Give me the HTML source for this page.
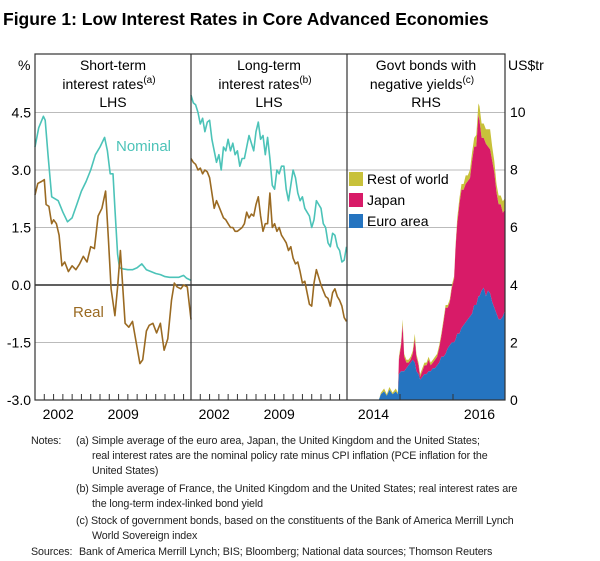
<!DOCTYPE html>
<html><head><meta charset="utf-8"><style>
body{margin:0;background:#fff;font-family:"Liberation Sans",Arial,sans-serif;}
#wrap{position:relative;width:600px;height:561px;overflow:hidden;}
.notes{position:absolute;left:0;top:0;font-size:10.7px;color:#222;line-height:15px;letter-spacing:-0.1px;}
.notes div{position:absolute;white-space:nowrap;}
</style></head><body>
<div id="wrap">
<svg id="chart" width="600" height="425" style="position:absolute;left:0;top:0">
<text x="3" y="25" font-size="17.5" font-weight="bold" fill="#000">Figure 1: Low Interest Rates in Core Advanced Economies</text>
<g id="grid"></g>
<g id="marks"></g>
<g id="frame"></g>
</svg>
<div class="notes" style="width:600px;height:561px">
<div style="left:31px;top:434px">Notes:</div>
<div style="left:76px;top:434px">(a) Simple average of the euro area, Japan, the United Kingdom and the United States;</div>
<div style="left:92px;top:449px">real interest rates are the nominal policy rate minus CPI inflation (PCE inflation for the</div>
<div style="left:92px;top:464px">United States)</div>
<div style="left:76px;top:482px">(b) Simple average of France, the United Kingdom and the United States; real interest rates are</div>
<div style="left:92px;top:497px">the long-term index-linked bond yield</div>
<div style="left:76px;top:514px">(c) Stock of government bonds, based on the constituents of the Bank of America Merrill Lynch</div>
<div style="left:92px;top:529px">World Sovereign index</div>
<div style="left:31px;top:545px">Sources:</div>
<div style="left:79px;top:545px">Bank of America Merrill Lynch; BIS; Bloomberg; National data sources; Thomson Reuters</div>
</div>
</div>
<script>
// ---- data ----
const shortNomDates=[2000.0,2000.4,2000.9,2001.1,2001.4,2001.8,2002.5,2003.0,2003.5,2004.0,2004.5,2005.0,2005.5,2006.0,2006.5,2007.0,2007.5,2007.8,2008.1,2008.4,2008.6,2008.9,2009.1,2009.5,2010.0,2010.5,2011.0,2011.5,2012.0,2012.5,2013.0,2013.5,2014.0,2014.5,2015.0,2015.5,2016.0,2016.3,2016.8];
const shortNom=[3.6,4.1,4.4,4.3,3.4,2.3,2.2,1.9,1.65,1.75,2.1,2.45,2.7,3.0,3.4,3.6,3.85,3.5,2.9,2.9,2.0,0.8,0.45,0.42,0.4,0.4,0.45,0.55,0.4,0.35,0.3,0.27,0.22,0.2,0.2,0.2,0.25,0.18,0.12];
const shortRealDates=[2000.0,2000.3,2000.7,2001.0,2001.2,2001.5,2001.8,2002.0,2002.3,2002.6,2002.9,2003.2,2003.6,2004.0,2004.4,2004.8,2005.2,2005.6,2006.0,2006.4,2006.8,2007.2,2007.6,2007.9,2008.2,2008.6,2008.9,2009.2,2009.7,2010.1,2010.5,2010.9,2011.3,2011.6,2012.0,2012.3,2012.7,2013.1,2013.5,2013.9,2014.3,2014.7,2015.0,2015.3,2015.7,2016.0,2016.4,2016.8];
const shortReal=[2.35,2.65,2.7,2.75,2.1,2.05,1.6,1.7,1.6,1.3,0.5,0.6,0.35,0.5,0.4,0.55,0.75,0.6,1.0,0.95,1.8,2.0,2.45,1.2,-0.1,-0.8,-0.05,0.9,-1.0,-1.1,-0.95,-1.5,-2.05,-1.95,-1.2,-1.05,-1.0,-1.25,-1.0,-1.7,-1.4,-0.4,0.05,-0.05,-0.1,0.0,-0.05,-0.9];
const longStart=2000, longStep=0.25;
const longNom=[4.95,4.75,4.7,4.5, 4.2,4.35,4.0,4.25, 4.3,3.8,3.5,3.2, 3.4,3.0,3.6,3.5, 3.8,3.5,3.7,3.4, 3.5,3.1,3.3,3.3, 3.6,3.9,3.7,3.5, 4.0,4.25,3.8,3.9, 3.4,3.85,3.3,2.6, 2.5,3.0,2.9,3.1, 3.1,2.5,2.2,2.6, 3.0,2.8,2.4,2.2, 2.3,2.0,1.9,1.8, 1.5,1.7,2.2,2.1, 2.0,1.6,1.5,1.1, 1.0,1.35,1.3,1.0, 0.9,0.6,0.65,1.0];
const longReal=[3.3,3.2,3.15,3.0, 3.05,2.9,3.0,2.95, 2.8,2.4,2.0,2.2, 2.05,1.9,1.75,1.7, 1.6,1.5,1.5,1.4, 1.4,1.45,1.5,1.6, 1.9,1.75,1.85,1.8, 2.1,2.3,1.8,1.4, 1.6,1.6,2.4,1.5, 1.6,1.4,1.5,1.3, 1.2,1.1,0.9,1.0, 0.7,0.55,0.6,0.35, 0.05,0.1,-0.2,-0.5, -0.55,0.05,0.4,0.2, 0.0,-0.15,-0.3,-0.35, -0.55,-0.2,-0.1,-0.3, -0.4,-0.55,-0.85,-0.95];
const bondDates=[2014.00,2014.60,2014.64,2014.70,2014.75,2014.80,2014.86,2014.92,2014.96,2014.98,2015.02,2015.05,2015.08,2015.12,2015.16,2015.20,2015.24,2015.28,2015.31,2015.35,2015.38,2015.42,2015.46,2015.50,2015.54,2015.58,2015.62,2015.66,2015.70,2015.74,2015.78,2015.82,2015.86,2015.90,2015.94,2015.98,2016.02,2016.05,2016.08,2016.12,2016.16,2016.20,2016.24,2016.28,2016.32,2016.36,2016.40,2016.44,2016.48,2016.50,2016.54,2016.58,2016.62,2016.66,2016.70,2016.74,2016.78,2016.82,2016.86,2016.90,2016.94,2016.98];
const euroArea=[0,0,0.2,0.3,0.15,0.35,0.2,0.3,0.2,0.9,1.0,1.0,1.0,1.1,1.2,1.3,1.4,1.3,1.0,0.9,0.7,0.8,0.9,0.9,1.0,1.0,1.1,1.1,1.2,1.3,1.5,1.5,1.6,1.8,1.9,2.0,2.0,2.1,2.3,2.3,2.5,2.6,2.7,2.8,2.9,3.0,3.3,3.3,3.6,3.6,3.8,3.9,3.6,3.8,3.7,3.4,3.2,3.0,2.8,2.8,2.9,3.1];
const japan=[0,0,0,0,0,0,0,0,0,0.5,0.9,1.6,0.5,0.2,0.1,0.1,0.2,0.8,0.5,0.3,0.1,0.2,0.3,0.3,0.4,0.2,0.2,0.3,0.3,0.5,0.7,1.2,1.6,1.4,1.5,1.9,2.2,3.2,3.8,4.5,4.8,4.7,4.8,4.8,4.8,5.3,5.5,5.5,6.3,6.1,5.3,5.2,5.3,5.0,5.0,4.9,4.7,4.2,4.0,4.0,3.6,3.5];
const restOfWorld=[0,0,0.05,0.1,0.05,0.1,0.05,0.1,0.05,0.1,0.1,0.2,0.1,0.1,0.1,0.1,0.1,0.2,0.1,0.1,0.1,0.1,0.1,0.1,0.1,0.1,0.1,0.1,0.1,0.1,0.1,0.1,0.1,0.1,0.1,0.1,0.1,0.1,0.2,0.2,0.2,0.2,0.3,0.2,0.3,0.3,0.3,0.4,0.4,0.5,0.5,0.5,0.5,0.6,0.7,0.5,0.4,0.3,0.3,0.3,0.4,0.4];
const lhsTicks=["4.5","3.0","1.5","0.0","-1.5","-3.0"];
const rhsTicks=["10","8","6","4","2","0"];

// ---- geometry ----
const NS="http://www.w3.org/2000/svg";
const T=54,B=400,L=35,D1=191,D2=347,R=505;
const yL=v=>285-(v/1.5)*57.5;
const yR=v=>400-v*28.8;
const yrW=(D1-L)/16.8;
const xS=yr=>L+(yr-2000)*yrW;
const xLg=yr=>D1+(yr-2000)*yrW;
const xB=yr=>D2+(yr-2014)*53;
function mk(tag,attrs,parent){const e=document.createElementNS(NS,tag);for(const k in attrs)e.setAttribute(k,attrs[k]);parent.appendChild(e);return e;}
const grid=document.getElementById('grid'),marks=document.getElementById('marks'),frame=document.getElementById('frame');

lhsTicks.forEach((t,i)=>{const y=yL(4.5-1.5*i);
 if(i<5){const g=mk('line',{x1:L,x2:R,y1:y,y2:y,stroke:t==="0.0"?"#000":"#bbb","stroke-width":t==="0.0"?1.2:1},grid);
 
 }
 const tx=mk('text',{x:L-4,y:y+5,"font-size":14,"text-anchor":"end",fill:"#000"},frame);tx.textContent=t;
 
 });
rhsTicks.forEach((t,i)=>{const y=yR(10-2*i);
 const tx=mk('text',{x:R+5,y:y+5,"font-size":14,fill:"#000"},frame);tx.textContent=t;
 
 });

function area(lower,upper,color,name){
 let d="M"+bondDates.map((dt,i)=>xB(dt).toFixed(1)+","+yR(upper[i]).toFixed(1)).join("L");
 for(let i=bondDates.length-1;i>=0;i--)d+="L"+xB(bondDates[i]).toFixed(1)+","+yR(lower[i]).toFixed(1);
 const p=mk('path',{d:d+"Z",fill:color,stroke:"none"},marks);
 
 }
const zero=bondDates.map(()=>0);
const s1=euroArea.slice(), s2=euroArea.map((v,i)=>v+japan[i]), s3=s2.map((v,i)=>v+restOfWorld[i]);
area(s2,s3,"#c8c13a","area-rest-of-world");
area(s1,s2,"#d81b68","area-japan");
area(zero,s1,"#2574c0","area-euro-area");

function line(dates,vals,xf,color,name){
 const d="M"+dates.map((dt,i)=>xf(dt).toFixed(1)+","+yL(vals[i]).toFixed(1)).join("L");
 const p=mk('path',{d:d,fill:"none",stroke:color,"stroke-width":1.6,"stroke-linejoin":"round"},marks);
 
 }
line(shortNomDates,shortNom,xS,"#4cc3b8","short-term-nominal-line");
line(shortRealDates,shortReal,xS,"#9a6a22","short-term-real-line");
const longDates=longNom.map((_,i)=>longStart+i*longStep);
line(longDates,longNom,xLg,"#4cc3b8","long-term-nominal-line");
line(longDates,longReal,xLg,"#9a6a22","long-term-real-line");

const fr=mk('rect',{x:L,y:T,width:R-L,height:B-T,fill:"none",stroke:"#333","stroke-width":1.2},frame);


[D1,D2].forEach(x=>{const l=mk('line',{x1:x,x2:x,y1:T,y2:B,stroke:"#333","stroke-width":1.2},frame);
 
 });
[xS,xLg].forEach(xf=>{for(let y=2000;y<=2016;y++){const x=xf(y);
 const t=mk('line',{x1:x,x2:x,y1:B,y2:B-6,stroke:"#333"},frame);
 
 }
 [2002,2009].forEach(y=>{const tx=mk('text',{x:xf(y+0.5),y:B+19,"font-size":14,"text-anchor":"middle"},frame);tx.textContent=y;
 
 });});
[2015,2016].forEach(y=>{const t=mk('line',{x1:xB(y),x2:xB(y),y1:B,y2:B-6,stroke:"#333"},frame);
 
 });
[2014,2016].forEach(y=>{const tx=mk('text',{x:xB(y+0.5),y:B+19,"font-size":14,"text-anchor":"middle"},frame);tx.textContent=y;
 
 });

function txt(s,x,y,opts,name){const t=mk('text',Object.assign({x:x,y:y,"font-size":14,fill:"#000"},opts||{}),frame);t.innerHTML=s;
 
 return t;}
txt("%",18,70,{},"lhs-unit");
txt("US$tr",508,70,{},"rhs-unit");
const sup='<tspan font-size="10" dy="-6">';
txt("Short-term",113,70,{"text-anchor":"middle"},"panel-title-short");
txt("interest rates"+sup+"(a)</tspan>",109,89,{"text-anchor":"middle"},"panel-title-short-2");
txt("LHS",113,107,{"text-anchor":"middle"},"panel-title-short-3");
txt("Long-term",269,70,{"text-anchor":"middle"},"panel-title-long");
txt("interest rates"+sup+"(b)</tspan>",265,89,{"text-anchor":"middle"},"panel-title-long-2");
txt("LHS",269,107,{"text-anchor":"middle"},"panel-title-long-3");
txt("Govt bonds with",426,70,{"text-anchor":"middle"},"panel-title-bonds");
txt("negative yields"+sup+"(c)</tspan>",422,89,{"text-anchor":"middle"},"panel-title-bonds-2");
txt("RHS",426,107,{"text-anchor":"middle"},"panel-title-bonds-3");
txt("Nominal",116,151,{fill:"#4cc3b8","font-size":15},"label-nominal");
txt("Real",73,317,{fill:"#9a6a22","font-size":15},"label-real");
[["Rest of world","#c8c13a",172],["Japan","#d81b68",193],["Euro area","#2574c0",214]].forEach(([n,c,y])=>{
 const r=mk('rect',{x:349,y:y,width:14,height:14,fill:c},frame);
 
 
 txt(n,367,y+12,{},"legend-entry");});
</script>
</body></html>
